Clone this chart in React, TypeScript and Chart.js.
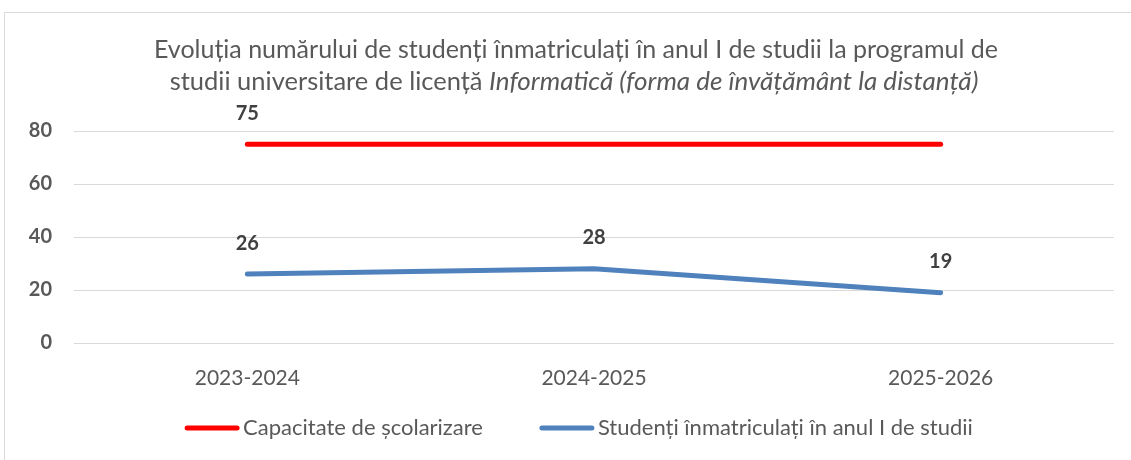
import React, { useEffect, useRef } from "react";
import { Chart, registerables } from "chart.js";

Chart.register(...registerables);

const categories = ["2023-2024", "2024-2025", "2025-2026"];
const capacity = [75, 75, 75];
const enrolled = [26, 28, 19];
const capacityLabelShown = [true, false, false];
const enrolledLabelShown = [true, true, true];
const seriesNames = ["Capacitate de școlarizare", "Studenți înmatriculați în anul I de studii"];
const titleLine1 = "Evoluția numărului de studenți înmatriculați în anul I de studii la programul de";
const titleLine2Normal = "studii universitare de licență ";
const titleLine2Italic = "Informatică (forma de învățământ la distanță)";
const yTicks = [0, 20, 40, 60, 80];

const RED = "#FF0000";
const BLUE = "#4F81BD";
const GRAY = "#595959";
const FONT = "Lato, 'Open Sans', sans-serif";

const decorPlugin = {
  id: "decor",
  beforeDraw(chart: any) {
    const ctx = chart.ctx;
    ctx.save();
    ctx.strokeStyle = "#D9D9D9";
    ctx.lineWidth = 1;
    ctx.beginPath();
    ctx.moveTo(4.5, 470);
    ctx.lineTo(4.5, 12.5);
    ctx.lineTo(1140, 12.5);
    ctx.stroke();
    ctx.restore();
  },
  afterDraw(chart: any) {
    const ctx = chart.ctx;
    ctx.save();
    // Title
    ctx.fillStyle = GRAY;
    ctx.textBaseline = "middle";
    ctx.font = `25px ${FONT}`;
    ctx.textAlign = "center";
    const cx = 576;
    ctx.fillText(titleLine1, cx, 50);
    ctx.textAlign = "left";
    ctx.font = `25.5px ${FONT}`;
    const wN = ctx.measureText(titleLine2Normal).width;
    ctx.font = `italic 26px ${FONT}`;
    const wI = ctx.measureText(titleLine2Italic).width;
    const startX = 574 - (wN + wI) / 2;
    ctx.font = `25.5px ${FONT}`;
    ctx.fillText(titleLine2Normal, startX, 82);
    ctx.font = `italic 26px ${FONT}`;
    ctx.fillText(titleLine2Italic, startX + wN, 82);

    // Data labels
    ctx.font = `bold 20px ${FONT}`;
    ctx.fillStyle = "#404040";
    ctx.textAlign = "center";
    const shows = [capacityLabelShown, enrolledLabelShown];
    chart.data.datasets.forEach((ds: any, di: number) => {
      const meta = chart.getDatasetMeta(di);
      meta.data.forEach((pt: any, i: number) => {
        if (!shows[di][i]) return;
        ctx.fillText(String(ds.data[i]), pt.x, pt.y - 31);
      });
    });

    // Legend
    ctx.font = `22px ${FONT}`;
    const sample = 54;
    const gap = 4;
    const spacing = 57;
    const colors = [RED, BLUE];
    const widths = seriesNames.map((n) => ctx.measureText(n).width);
    const total = widths.reduce((a, w) => a + sample + gap + w, 0) + spacing;
    let x = 579 - total / 2;
    const ly = 428;
    seriesNames.forEach((n, i) => {
      ctx.strokeStyle = colors[i];
      ctx.lineWidth = 5;
      ctx.lineCap = "round";
      ctx.beginPath();
      ctx.moveTo(x + 2, ly);
      ctx.lineTo(x + sample - 2, ly);
      ctx.stroke();
      ctx.fillStyle = GRAY;
      ctx.textAlign = "left";
      ctx.fillText(n, x + sample + gap, ly);
      x += sample + gap + widths[i] + spacing;
    });
    ctx.restore();
  },
};

export default function App() {
  const ref = useRef<HTMLCanvasElement>(null);
  useEffect(() => {
    document.body.style.margin = "0";
    const chart = new Chart(ref.current!, {
      type: "line",
      data: {
        labels: categories,
        datasets: [
          {
            label: seriesNames[0],
            data: capacity,
            borderColor: RED,
            backgroundColor: RED,
            borderWidth: 5,
            borderCapStyle: "round",
            pointRadius: 0,
            tension: 0,
          },
          {
            label: seriesNames[1],
            data: enrolled,
            borderColor: BLUE,
            backgroundColor: BLUE,
            borderWidth: 5,
            borderCapStyle: "round",
            pointRadius: 0,
            tension: 0,
          },
        ],
      },
      options: {
        animation: false,
        responsive: false,
        layout: { padding: { top: 131, right: 17, bottom: 57, left: 0 } },
        plugins: { legend: { display: false }, title: { display: false }, tooltip: { enabled: false } },
        scales: {
          x: {
            offset: true,
            grid: { display: false, drawTicks: false },
            border: { display: false },
            ticks: { color: GRAY, font: { family: FONT, size: 21 }, padding: 23 },
            afterFit(scale: any) {
              scale.height = 60;
            },
          },
          y: {
            min: 0,
            max: 80,
            afterBuildTicks(scale: any) {
              scale.ticks = yTicks.map((v) => ({ value: v }));
            },
            grid: { color: "#D9D9D9", lineWidth: 1, drawTicks: false },
            border: { display: false },
            ticks: { color: GRAY, font: { family: FONT, size: 20, weight: "bold" }, padding: 22 },
            afterFit(scale: any) {
              scale.width = 74;
            },
          },
        },
      },
      plugins: [decorPlugin],
    });
    return () => chart.destroy();
  }, []);
  return <canvas ref={ref} width={1131} height={460} style={{ display: "block" }} />;
}
